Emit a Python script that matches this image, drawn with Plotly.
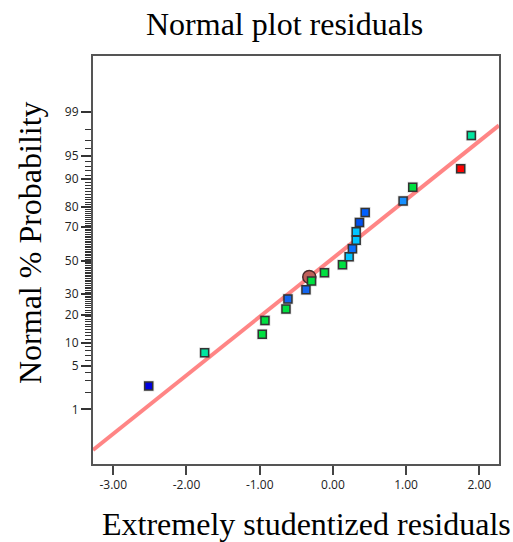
import plotly.graph_objects as go
from statistics import NormalDist

# ---------------- data ----------------
residuals = [-2.516, -1.752, -0.965, -0.928, -0.641, -0.614, -0.368, -0.292,
             -0.115, 0.131, 0.222, 0.267, 0.318, 0.318, 0.363, 0.441,
             0.959, 1.091, 1.746, 1.891]
probability = [2.5, 7.5, 12.5, 17.5, 22.5, 27.5, 32.5, 37.5, 42.5, 47.5,
               52.5, 57.5, 62.5, 67.5, 72.5, 77.5, 82.5, 87.5, 92.5, 97.5]
point_colors = ["#0000E0", "#00E6A0", "#00E040", "#00E040", "#00E040",
                "#1466F0", "#1466F0", "#00E040", "#00E040", "#00E040",
                "#00C4FF", "#0A70FF", "#00C4FF", "#00C4FF", "#0050F0",
                "#0060FF", "#1890FF", "#00E040", "#FF0000", "#00E6A0"]

highlight_residual = [-0.323]
highlight_probability = [40.0]

fit_slope = 0.9156      # normal score per residual unit
fit_intercept = 0.0394

y_tick_percents = [1, 5, 10, 20, 30, 50, 70, 80, 90, 95, 99]
y_minor_percents = [2, 3, 4, 6, 7, 8, 9, 11, 12, 13, 14, 15, 16, 17, 18, 19,
                    21, 22, 23, 24, 25, 26, 27, 28, 29, 31, 32, 33, 34, 35,
                    36, 37, 38, 39, 40, 41, 42, 43, 44, 45, 46, 47, 48, 49,
                    51, 52, 53, 54, 55, 56, 57, 58, 59, 60, 61, 62, 63, 64,
                    65, 66, 67, 68, 69, 71, 72, 73, 74, 75, 76, 77, 78, 79,
                    81, 82, 83, 84, 85, 86, 87, 88, 89, 91, 92, 93, 94, 96,
                    97, 98]
x_tick_values = [-3, -2, -1, 0, 1, 2]
x_tick_labels = ["-3.00", "-2.00", "-1.00", "0.00", "1.00", "2.00"]

x_range = [-3.277, 2.269]
y_range = [-3.18, 3.203]

# ---------------- helpers ----------------
nd = NormalDist()
def z(p):
    return nd.inv_cdf(p / 100.0)

fig = go.Figure()

# fitted line
fig.add_trace(go.Scatter(
    x=x_range,
    y=[fit_intercept + fit_slope * v for v in x_range],
    mode="lines",
    line=dict(color="rgba(255,120,120,0.9)", width=4),
    hoverinfo="skip", showlegend=False))

# shadow of markers
fig.add_trace(go.Scatter(
    x=residuals, y=[z(p) for p in probability], mode="markers",
    marker=dict(symbol="square", size=11, color="rgba(0,0,0,0.12)",
                line=dict(width=0)),
    hoverinfo="skip", showlegend=False))

# highlighted point (circle)
fig.add_trace(go.Scatter(
    x=highlight_residual, y=[z(p) for p in highlight_probability],
    mode="markers",
    marker=dict(symbol="circle", size=13, color="#C0605A",
                line=dict(color="#4A2A2A", width=1.5)),
    showlegend=False))

# points
fig.add_trace(go.Scatter(
    x=residuals, y=[z(p) for p in probability], mode="markers",
    marker=dict(symbol="square", size=8, color=point_colors,
                line=dict(color="#333333", width=1.5)),
    showlegend=False))

axis_font = dict(family="Open Sans, Noto Sans, sans-serif", size=12, color="#222222")

fig.update_layout(
    width=513, height=542,
    margin=dict(l=93, r=14, t=56, b=78),
    paper_bgcolor="white", plot_bgcolor="white",
    showlegend=False,
    xaxis=dict(range=x_range, tickmode="array", tickvals=x_tick_values,
               ticktext=x_tick_labels, ticks="outside", ticklen=9,
               tickwidth=2, tickcolor="#444444",
               showgrid=False, zeroline=False,
               showline=True, mirror=True, linecolor="#555555", linewidth=2,
               tickfont=axis_font),
    yaxis=dict(range=y_range, tickmode="array",
               tickvals=[z(p) for p in y_tick_percents],
               ticktext=[str(p) for p in y_tick_percents],
               ticks="outside", ticklen=10, tickwidth=1.5, tickcolor="#333333",
               minor=dict(tickmode="array",
                          tickvals=[z(p) for p in y_minor_percents],
                          ticks="outside", ticklen=6, tickwidth=1,
                          tickcolor="#333333", showgrid=False),
               showgrid=False, zeroline=False,
               showline=True, mirror=True, linecolor="#555555", linewidth=2,
               tickfont=axis_font),
    annotations=[
        dict(text="Normal plot residuals", xref="paper", yref="paper",
             x=(284 - 93) / 406, y=(464 - 24) / 408, xanchor="center",
             yanchor="middle", showarrow=False,
             font=dict(family="Liberation Serif, Times New Roman, serif",
                       size=32, color="black")),
        dict(text="Extremely studentized residuals", xref="paper", yref="paper",
             x=(306 - 93) / 406, y=(464 - 524) / 408, xanchor="center",
             yanchor="middle", showarrow=False,
             font=dict(family="Liberation Serif, Times New Roman, serif",
                       size=32, color="black")),
        dict(text="Normal % Probability", xref="paper", yref="paper",
             x=(30 - 93) / 406, y=(464 - 243) / 408, xanchor="center",
             yanchor="middle", showarrow=False, textangle=-90,
             font=dict(family="Liberation Serif, Times New Roman, serif",
                       size=32, color="black")),
    ],
)

fig.write_html("out.html")
